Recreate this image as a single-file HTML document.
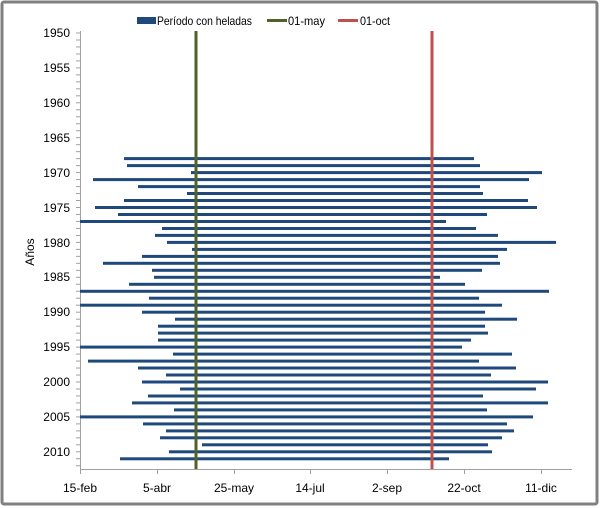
<!DOCTYPE html>
<html><head><style>body{margin:0;background:#fff}svg{display:block}text{font-family:"Liberation Sans",sans-serif;font-size:12px;fill:#000}</style></head><body>
<svg width="600" height="508" xmlns="http://www.w3.org/2000/svg">
<defs>
<pattern id="tk" patternUnits="userSpaceOnUse" x="0" y="32.5" width="10" height="6.98">
<line x1="0" y1="0.5" x2="10" y2="0.5" stroke="#a0a0a0" stroke-width="1"/>
</pattern>
</defs>
<rect x="2" y="2" width="595" height="502" fill="#fff" stroke="#808080" stroke-width="3" rx="2"/>
<rect x="137" y="17" width="19" height="7" fill="#1f497d"/>
<text x="157" y="25" textLength="95" lengthAdjust="spacingAndGlyphs">Período con heladas</text>
<line x1="267" y1="20.5" x2="287" y2="20.5" stroke="#4f6228" stroke-width="3"/>
<text x="288" y="25" textLength="37" lengthAdjust="spacingAndGlyphs">01-may</text>
<line x1="338" y1="20.5" x2="358" y2="20.5" stroke="#c0504d" stroke-width="3"/>
<text x="360" y="25" textLength="30" lengthAdjust="spacingAndGlyphs">01-oct</text>
<rect x="76" y="32" width="4" height="438" fill="url(#tk)"/>
<line x1="80.5" y1="31" x2="80.5" y2="469" stroke="#a0a0a0"/>
<line x1="80" y1="469.5" x2="572" y2="469.5" stroke="#a0a0a0"/>
<g stroke="#a0a0a0">
<line x1="80.5" y1="469" x2="80.5" y2="474"/><line x1="157.5" y1="469" x2="157.5" y2="474"/><line x1="234.5" y1="469" x2="234.5" y2="474"/><line x1="310.5" y1="469" x2="310.5" y2="474"/><line x1="387.5" y1="469" x2="387.5" y2="474"/><line x1="464.5" y1="469" x2="464.5" y2="474"/><line x1="541.5" y1="469" x2="541.5" y2="474"/>
</g>
<g text-anchor="end">
<text x="70" y="37">1950</text><text x="70" y="72">1955</text><text x="70" y="107">1960</text><text x="70" y="142">1965</text><text x="70" y="177">1970</text><text x="70" y="212">1975</text><text x="70" y="247">1980</text><text x="70" y="281">1985</text><text x="70" y="316">1990</text><text x="70" y="351">1995</text><text x="70" y="386">2000</text><text x="70" y="421">2005</text><text x="70" y="456">2010</text>
</g>
<g text-anchor="middle">
<text x="80" y="492">15-feb</text><text x="157" y="492">5-abr</text><text x="234" y="492">25-may</text><text x="310" y="492">14-jul</text><text x="387" y="492">2-sep</text><text x="464" y="492">22-oct</text><text x="541" y="492">11-dic</text>
</g>
<g fill="#1f497d">
<rect x="124" y="157.1" width="350" height="3"/>
<rect x="127" y="164.1" width="353" height="3"/>
<rect x="191" y="171.1" width="351" height="3"/>
<rect x="93" y="178.1" width="436" height="3"/>
<rect x="138" y="185.1" width="342" height="3"/>
<rect x="187" y="192.0" width="296" height="3"/>
<rect x="124" y="199.0" width="404" height="3"/>
<rect x="95" y="206.0" width="442" height="3"/>
<rect x="118" y="213.0" width="369" height="3"/>
<rect x="80" y="220.0" width="366" height="3"/>
<rect x="162" y="227.0" width="314" height="3"/>
<rect x="155" y="233.9" width="343" height="3"/>
<rect x="167" y="240.9" width="389" height="3"/>
<rect x="192" y="247.9" width="315" height="3"/>
<rect x="142" y="254.9" width="356" height="3"/>
<rect x="103" y="261.8" width="397" height="3"/>
<rect x="152" y="268.8" width="330" height="3"/>
<rect x="154" y="275.8" width="286" height="3"/>
<rect x="129" y="282.8" width="336" height="3"/>
<rect x="80" y="289.8" width="469" height="3"/>
<rect x="149" y="296.7" width="330" height="3"/>
<rect x="80" y="303.7" width="422" height="3"/>
<rect x="142" y="310.7" width="343" height="3"/>
<rect x="175" y="317.7" width="342" height="3"/>
<rect x="158" y="324.7" width="327" height="3"/>
<rect x="158" y="331.6" width="330" height="3"/>
<rect x="158" y="338.6" width="313" height="3"/>
<rect x="80" y="345.6" width="382" height="3"/>
<rect x="173" y="352.6" width="339" height="3"/>
<rect x="88" y="359.6" width="391" height="3"/>
<rect x="138" y="366.5" width="378" height="3"/>
<rect x="166" y="373.5" width="325" height="3"/>
<rect x="142" y="380.5" width="406" height="3"/>
<rect x="180" y="387.5" width="356" height="3"/>
<rect x="148" y="394.5" width="335" height="3"/>
<rect x="132" y="401.4" width="416" height="3"/>
<rect x="174" y="408.4" width="313" height="3"/>
<rect x="80" y="415.4" width="453" height="3"/>
<rect x="143" y="422.4" width="364" height="3"/>
<rect x="166" y="429.4" width="348" height="3"/>
<rect x="160" y="436.3" width="342" height="3"/>
<rect x="202" y="443.3" width="286" height="3"/>
<rect x="169" y="450.3" width="323" height="3"/>
<rect x="120" y="457.3" width="329" height="3"/>
</g>
<line x1="196" y1="31" x2="196" y2="469" stroke="#4f6228" stroke-width="3"/>
<line x1="432" y1="31" x2="432" y2="469" stroke="#c0504d" stroke-width="3"/>
<text x="34" y="252" transform="rotate(-90 34 252)" text-anchor="middle">Años</text>
</svg>
</body></html>
